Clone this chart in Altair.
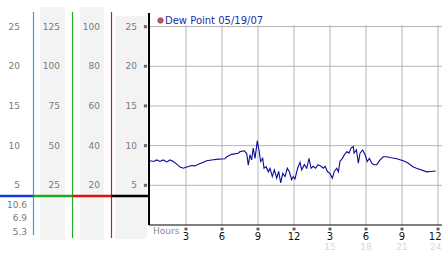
import altair as alt
import pandas as pd

# ---------------- data ----------------
hours = [0.0, 0.3, 0.56, 0.83, 1.1, 1.4, 1.67, 1.94, 2.2, 2.5, 2.78, 3.06, 3.47, 3.75,
         4.03, 4.44, 4.72, 5.14, 5.7, 6.25, 6.4, 6.8, 7.36, 7.5, 7.86, 8.06, 8.19, 8.33,
         8.47, 8.6, 8.75, 8.94, 9.08, 9.22, 9.39, 9.5, 9.67, 9.86, 10.0, 10.19, 10.36,
         10.56, 10.72, 10.89, 11.06, 11.25, 11.44, 11.61, 11.8, 11.94, 12.08, 12.3, 12.5,
         12.64, 12.86, 13.06, 13.25, 13.42, 13.6, 13.8, 14.0, 14.25, 14.44, 14.58, 14.8,
         15.0, 15.19, 15.36, 15.56, 15.7, 15.83, 16.03, 16.2, 16.4, 16.58, 16.75, 16.94,
         17.0, 17.2, 17.36, 17.5, 17.72, 17.92, 18.1, 18.28, 18.47, 18.67, 18.9, 19.17,
         19.44, 19.72, 20.0, 20.56, 21.1, 21.5, 21.9, 22.2, 23.06, 23.4, 23.8]
dew_point = [8.1, 8.0, 8.2, 8.0, 8.2, 7.95, 8.2, 8.0, 7.7, 7.3, 7.15, 7.3, 7.5, 7.45,
             7.65, 7.9, 8.1, 8.2, 8.3, 8.35, 8.6, 8.9, 9.05, 9.25, 9.35, 9.0, 7.55, 8.85,
             8.2, 9.7, 8.4, 10.6, 9.45, 8.0, 8.4, 7.15, 7.35, 6.7, 7.15, 6.1, 6.95,
             5.9, 6.75, 5.3, 6.5, 6.1, 7.15, 6.7, 5.7, 6.1, 5.8, 7.15, 7.9,
             6.95, 7.6, 7.15, 8.4, 7.15, 7.4, 7.15, 7.6, 7.4, 7.15, 7.4, 6.7,
             6.5, 5.9, 6.75, 7.15, 6.7, 8.0, 8.4, 8.85, 9.25, 9.05, 9.7, 9.9,
             9.05, 9.45, 7.8, 9.05, 9.45, 8.85, 8.0, 8.4, 7.8, 7.6, 7.6, 8.2,
             8.6, 8.6, 8.5, 8.35, 8.1, 7.8, 7.35, 7.15, 6.7, 6.75, 6.8]

y_ticks = [5, 10, 15, 20, 25]
col1_labels = ["5", "10", "15", "20", "25"]
col2_labels = ["25", "50", "75", "100", "125"]
col3_labels = ["20", "40", "60", "80", "100"]
col4_labels = ["5", "10", "15", "20", "25"]

x_ticks = [3, 6, 9, 12, 15, 18, 21, 24]
x_labels = ["3", "6", "9", "12", "3", "6", "9", "12"]
x_ticks2 = [15, 18, 21, 24]
x_labels2 = ["15", "18", "21", "24"]

stat_labels = ["10.6", "6.9", "5.3"]
legend_label = "Dew Point 05/19/07"

# ---------------- layout ----------------
W, H = 292, 200
FONT = "DejaVu Sans"
GRID = "#b5b5b5"
xscale = alt.Scale(domain=[0, 24.33], nice=False, zero=False)
yscale = alt.Scale(domain=[0, 25.2], nice=False, zero=False)
one = pd.DataFrame({"k": [0]})

df = pd.DataFrame({"h": hours, "v": dew_point})
df_cols = pd.DataFrame({"y": y_ticks, "c1": col1_labels, "c2": col2_labels,
                        "c3": col3_labels, "c4": col4_labels})
df_xt = pd.DataFrame({"h": x_ticks, "t": x_labels})
df_xt_a = df_xt.iloc[:-1]
df_xt_b = df_xt.iloc[-1:]
df_xt2 = pd.DataFrame({"h": x_ticks2, "t": x_labels2})
df_xt2_a = df_xt2.iloc[:-1]
df_xt2_b = df_xt2.iloc[-1:]

X = lambda: alt.X("h:Q", scale=xscale, axis=None)
Y = lambda f="y": alt.Y(f"{f}:Q", scale=yscale, axis=None)

layers = []

# grey bands of the left panel
for x0, x1, y0, y1 in [(-110, -85, -18, 215), (-70, -46, -18, 215), (-35, -3, -9, 214)]:
    layers.append(alt.Chart(one).mark_rect(color="#f3f3f3").encode(
        x=alt.value(x0), x2=alt.value(x1), y=alt.value(y0), y2=alt.value(y1)))

# coloured vertical rules of the left panel
for xv, c, y0, y1 in [(-116.5, "#2aa4dc", -13, 210), (-77.5, "#22aa22", -13, 213),
                      (-38.5, "#c02020", -13, 213)]:
    layers.append(alt.Chart(one).mark_rule(color=c, strokeWidth=1.2).encode(
        x=alt.value(xv), y=alt.value(y0), y2=alt.value(y1)))

# thick horizontal segments
for x0, x1, c in [(-150, -116.5, "#1040e0"), (-116.5, -77.5, "#20a820"),
                  (-77.5, -38.5, "#e01010"), (-38.5, -1, "#000000")]:
    layers.append(alt.Chart(one).mark_rule(color=c, strokeWidth=2.5).encode(
        x=alt.value(x0), x2=alt.value(x1), y=alt.value(171)))

# column labels
for field, xr in [("c1", -130), ("c2", -90), ("c3", -50), ("c4", -13)]:
    layers.append(alt.Chart(df_cols).mark_text(
        align="right", baseline="middle", font=FONT, fontSize=9, color="#7a7a7a").encode(
        x=alt.value(xr), y=Y(), text=f"{field}:N"))

# stats labels
for lab, yr in zip(stat_labels, [180, 193.3, 206.7]):
    layers.append(alt.Chart(one).mark_text(
        align="right", baseline="middle", font=FONT, fontSize=9, color="#7a7a7a").encode(
        x=alt.value(-123), y=alt.value(yr), text=alt.value(lab)))

# grid lines
layers.append(alt.Chart(df_cols).mark_rule(color=GRID, strokeWidth=1).encode(
    x=alt.value(0), x2=alt.value(W), y=Y()))
layers.append(alt.Chart(df_xt).mark_rule(color=GRID, strokeWidth=1).encode(
    x=X(), y=alt.value(0), y2=alt.value(H)))

# data line
layers.append(alt.Chart(df).mark_line(color="#0c0c98", strokeWidth=1.1).encode(
    x=X(), y=Y("v")))

# axis lines
layers.append(alt.Chart(one).mark_rule(color="#000000", strokeWidth=2).encode(
    x=alt.value(-1), y=alt.value(-12), y2=alt.value(H)))
layers.append(alt.Chart(one).mark_rule(color="#000000", strokeWidth=1).encode(
    x=alt.value(-1), x2=alt.value(W), y=alt.value(H)))

# tick markers
layers.append(alt.Chart(df_cols).mark_point(
    shape="cross", angle=45, size=14, filled=True, color="#222222").encode(
    x=alt.value(-4.5), y=Y()))
layers.append(alt.Chart(df_xt).mark_point(
    shape="cross", angle=45, size=14, filled=True, color="#222222").encode(
    x=X(), y=alt.value(204)))

# x labels
layers.append(alt.Chart(df_xt_a).mark_text(
    align="center", baseline="middle", font=FONT, fontSize=10, color="#111111").encode(
    x=X(), y=alt.value(212), text="t:N"))
layers.append(alt.Chart(df_xt_b).mark_text(
    align="right", baseline="middle", font=FONT, fontSize=10, color="#111111", dx=3.5).encode(
    x=X(), y=alt.value(212), text="t:N"))
layers.append(alt.Chart(df_xt2_a).mark_text(
    align="center", baseline="middle", font=FONT, fontSize=9, color="#d8d8d8").encode(
    x=X(), y=alt.value(222), text="t:N"))
layers.append(alt.Chart(df_xt2_b).mark_text(
    align="right", baseline="middle", font=FONT, fontSize=9, color="#d8d8d8", dx=3.5).encode(
    x=X(), y=alt.value(222), text="t:N"))
layers.append(alt.Chart(one).mark_text(
    align="left", baseline="middle", font=FONT, fontSize=9, color="#8a8a8a").encode(
    x=alt.value(3), y=alt.value(206), text=alt.value("Hours")))

# legend
layers.append(alt.Chart(one).mark_point(
    shape="circle", size=30, filled=True, color="#a01010", stroke="#401010",
    strokeWidth=0.8).encode(x=alt.value(10.5), y=alt.value(-4.5)))
layers.append(alt.Chart(one).mark_text(
    align="left", baseline="middle", font=FONT, fontSize=10, color="#1c2fa8").encode(
    x=alt.value(15), y=alt.value(-4.5), text=alt.value(legend_label)))

chart = alt.layer(*layers).properties(
    width=W, height=H,
    autosize=alt.AutoSizeParams(type="none"),
    padding={"left": 150, "top": 25, "right": 0, "bottom": 28},
    background="white",
).configure_view(strokeWidth=0)

chart.save("out.html", embed_options={"renderer": "svg", "actions": False})
